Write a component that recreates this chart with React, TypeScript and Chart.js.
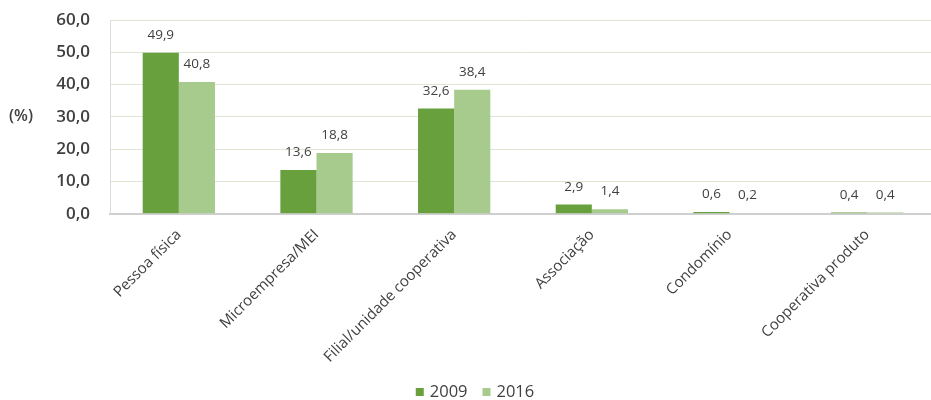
import React, { useEffect, useRef } from "react";
import { Chart, registerables } from "chart.js";

Chart.register(...registerables);

const categories = [
  "Pessoa física",
  "Microempresa/MEI",
  "Filial/unidade cooperativa",
  "Associação",
  "Condomínio",
  "Cooperativa produto",
];
const series2009 = [49.9, 13.6, 32.6, 2.9, 0.6, 0.4];
const series2016 = [40.8, 18.8, 38.4, 1.4, 0.2, 0.4];
const seriesNames = ["2009", "2016"];
const seriesColors = ["#68a03e", "#a6cb8c"];
const yTicks = [0, 10, 20, 30, 40, 50, 60];
const yTitle = "(%)";

const fmt = (v: number) => v.toFixed(1).replace(".", ",");

const FONT = "'Open Sans', 'DejaVu Sans', sans-serif";
const TEXT = "#404040";

const labelPlugin = {
  id: "valueLabels",
  afterDatasetsDraw(chart: any) {
    const ctx = chart.ctx;
    ctx.save();
    ctx.font = `13.5px ${FONT}`;
    ctx.fillStyle = TEXT;
    ctx.textAlign = "center";
    ctx.textBaseline = "bottom";
    chart.data.datasets.forEach((ds: any, i: number) => {
      const meta = chart.getDatasetMeta(i);
      meta.data.forEach((bar: any, j: number) => {
        ctx.fillText(fmt(ds.data[j]), bar.x, bar.y - 11);
      });
    });
    ctx.restore();
  },
};

const yTitlePlugin = {
  id: "yTitleH",
  afterDraw(chart: any) {
    const ctx = chart.ctx;
    const y = chart.scales.y;
    ctx.save();
    ctx.font = `600 16px ${FONT}`;
    ctx.fillStyle = TEXT;
    ctx.textAlign = "left";
    ctx.textBaseline = "middle";
    ctx.fillText(yTitle, 9, y.getPixelForValue(30));
    ctx.restore();
  },
};

const legendPlugin = {
  id: "customLegend",
  afterDraw(chart: any) {
    const ctx = chart.ctx;
    ctx.save();
    ctx.font = `16.5px ${FONT}`;
    ctx.textBaseline = "middle";
    ctx.textAlign = "left";
    const cy = 392;
    const box = 8;
    const gapBoxText = 6;
    const gapItems = 15;
    const widths = seriesNames.map((n) => box + gapBoxText + ctx.measureText(n).width);
    const total = widths.reduce((a, b) => a + b, 0) + gapItems * (seriesNames.length - 1);
    let x = 475 - total / 2;
    seriesNames.forEach((n, i) => {
      ctx.fillStyle = seriesColors[i];
      ctx.fillRect(x, cy - box / 2, box, box);
      ctx.fillStyle = TEXT;
      ctx.fillText(n, x + box + gapBoxText, cy);
      x += widths[i] + gapItems;
    });
    ctx.restore();
  },
};

export default function App() {
  const ref = useRef<HTMLCanvasElement>(null);
  useEffect(() => {
    document.body.style.margin = "0";
    const chart = new Chart(ref.current!, {
      type: "bar",
      data: {
        labels: categories,
        datasets: seriesNames.map((name, i) => ({
          label: name,
          data: i === 0 ? series2009 : series2016,
          backgroundColor: seriesColors[i],
          categoryPercentage: 0.525,
          barPercentage: 1,
        })),
      },
      options: {
        animation: false,
        responsive: false,
        layout: { padding: { left: 0, right: 0, top: 20, bottom: 30 } },
        plugins: {
          legend: { display: false },
          tooltip: { enabled: false },
        },
        scales: {
          x: {
            grid: { display: false },
            border: { color: "#cfcfcf", width: 2 },
            ticks: {
              maxRotation: 45,
              minRotation: 45,
              padding: 4,
              font: { family: FONT, size: 15 },
              color: TEXT,
            },
          },
          y: {
            min: 0,
            max: 60,
            afterBuildTicks: (s: any) => {
              s.ticks = yTicks.map((v) => ({ value: v }));
            },
            afterFit: (s: any) => {
              s.width = 110;
              s.paddingTop = 10;
              s.paddingBottom = 10;
            },
            grid: { color: "#dde6d3", drawTicks: false },
            border: { color: "#dcdcdc" },
            ticks: {
              padding: 20,
              font: { family: FONT, size: 17, weight: "600" },
              color: TEXT,
              callback: (v: any) => fmt(Number(v)),
            },
          },
        },
      },
      plugins: [labelPlugin, yTitlePlugin, legendPlugin],
    });
    return () => chart.destroy();
  }, []);
  return (
    <div style={{ position: "absolute", left: 0, top: 0, width: 931, height: 400, overflow: "hidden" }}>
      <canvas ref={ref} width={936} height={400} />
    </div>
  );
}
